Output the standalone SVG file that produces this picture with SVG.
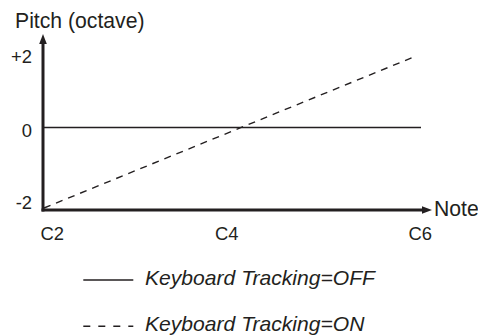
<svg xmlns="http://www.w3.org/2000/svg" width="478" height="336" viewBox="0 0 478 336">
<style>
text{font-family:"Liberation Sans",Arial,sans-serif;fill:#231f20}
.lbl{font-size:21.2px}
.tick{font-size:18.4px}
.leg{font-size:21.1px;font-style:italic}
.axis{stroke:#231f20;stroke-width:3;fill:none}
.thin{stroke:#231f20;stroke-width:1.4;fill:none}
.dash{stroke:#231f20;stroke-width:1.4;fill:none;stroke-dasharray:7 6}
.ldash{stroke:#231f20;stroke-width:1.4;fill:none;stroke-dasharray:7 8}
.head{fill:#231f20}
</style>
<rect width="478" height="336" fill="#fff"/>
<g id="axes">
<line class="axis" x1="43" y1="43" x2="43" y2="211.5"/>
<line class="axis" x1="41.5" y1="210" x2="423" y2="210"/>
<polygon class="head" points="43,34 46.8,44 39.2,44"/>
<polygon class="head" points="432,210 422,206.2 422,213.8"/>
</g>
<g id="connectors">
<line class="thin" x1="43" y1="127.5" x2="421" y2="127.5"/>
<line class="dash" x1="44" y1="208" x2="415" y2="56.5"/>
</g>
<g id="labels">
<text class="lbl" x="15" y="28">Pitch (octave)</text>
<text class="tick" x="32" y="62.5" text-anchor="end">+2</text>
<text class="tick" x="32" y="136.5" text-anchor="end">0</text>
<text class="tick" x="32" y="208.5" text-anchor="end">-2</text>
<text class="tick" x="40.5" y="239.5">C2</text>
<text class="tick" x="215" y="239.5">C4</text>
<text class="tick" x="408.5" y="239.5">C6</text>
<text class="lbl" x="434" y="216">Note</text>
</g>
<g id="legend">
<line class="thin" x1="83.3" y1="280" x2="133.3" y2="280"/>
<text class="leg" x="145" y="285">Keyboard Tracking=OFF</text>
<line class="ldash" x1="83.3" y1="326.3" x2="133.3" y2="326.3"/>
<text class="leg" x="145" y="330.5">Keyboard Tracking=ON</text>
</g>
</svg>
